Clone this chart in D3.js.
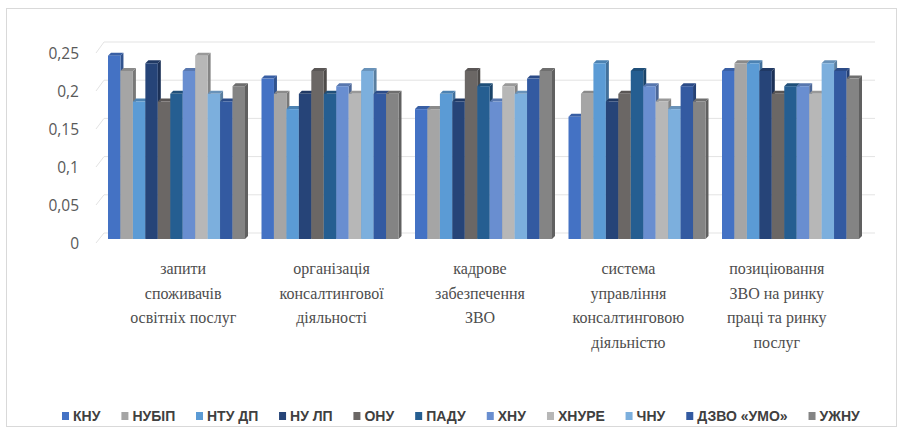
<!DOCTYPE html>
<html>
<head>
<meta charset="utf-8">
<script src="https://cdn.jsdelivr.net/npm/d3@7"></script>
<style>
  body { margin: 0; background: #fff; }
  svg { display: block; }
</style>
</head>
<body>
<div id="chart"></div>
<script>
// ---------------------------------------------------------------------------
// Data
const categories = [
  ['запити', 'споживачів', 'освітніх послуг'],
  ['організація', 'консалтингової', 'діяльності'],
  ['кадрове', 'забезпечення', 'ЗВО'],
  ['система', 'управління', 'консалтинговою', 'діяльністю'],
  ['позиціювання', 'ЗВО на ринку', 'праці та ринку', 'послуг']
];
const series = ['КНУ', 'НУБІП', 'НТУ ДП', 'НУ ЛП', 'ОНУ', 'ПАДУ', 'ХНУ', 'ХНУРЕ', 'ЧНУ', 'ДЗВО «УМО»', 'УЖНУ'];
// one row per category, one value per series
const values = [
  [0.24, 0.22, 0.18, 0.23, 0.18, 0.19, 0.22, 0.24, 0.19, 0.18, 0.20],
  [0.21, 0.19, 0.17, 0.19, 0.22, 0.19, 0.20, 0.19, 0.22, 0.19, 0.19],
  [0.17, 0.17, 0.19, 0.18, 0.22, 0.20, 0.18, 0.20, 0.19, 0.21, 0.22],
  [0.16, 0.19, 0.23, 0.18, 0.19, 0.22, 0.20, 0.18, 0.17, 0.20, 0.18],
  [0.22, 0.23, 0.23, 0.22, 0.19, 0.20, 0.20, 0.19, 0.23, 0.22, 0.21]
];
const yTicks = [0, 0.05, 0.1, 0.15, 0.2, 0.25];
const colors = ['#4472c4', '#a5a5a5', '#5b9bd5', '#264478', '#6b6765', '#255e91',
                '#698ed0', '#b7b7b7', '#7cafdd', '#335aa1', '#848484'];

// ---------------------------------------------------------------------------
// Layout
const width = 902, height = 429;
const depth = 3;

const svg = d3.select('#chart').append('svg')
  .attr('width', width)
  .attr('height', height);

// outer chart border
svg.append('rect')
  .attr('x', 6.5).attr('y', 8.5)
  .attr('width', 890).attr('height', 418)
  .attr('fill', '#fff')
  .attr('stroke', '#d9d9d9');

const x0 = d3.scaleBand()
  .domain(d3.range(categories.length))
  .range([99.75, 867.25])
  .paddingInner(0.1075)
  .paddingOuter(0.05375);
const x1 = d3.scaleBand()
  .domain(series)
  .range([0, x0.bandwidth()]);
// labels sit on the front edge of the floor
const xLabel = d3.scaleBand()
  .domain(d3.range(categories.length))
  .range([109, 851]);

const y = d3.scaleLinear().domain([0, 0.25]).range([239, 48]);
const yWall = d3.scaleLinear().domain([0, 0.25]).range([233, 42]);
const yLabel = d3.scaleLinear().domain([0, 0.25]).range([244, 54]);

// back wall gridlines
svg.append('g')
  .selectAll('line')
  .data(yTicks)
  .join('line')
  .attr('x1', 104).attr('x2', 875)
  .attr('y1', d => yWall(d)).attr('y2', d => yWall(d))
  .attr('stroke', '#e3e3e3')
  .attr('stroke-width', 1);

// side wall tick slants
svg.append('g')
  .selectAll('line')
  .data(yTicks)
  .join('line')
  .attr('x1', 96).attr('x2', 104)
  .attr('y1', d => yLabel(d) - 1).attr('y2', d => yWall(d))
  .attr('stroke', '#e3e3e3');

// y axis labels
svg.append('g')
  .selectAll('text')
  .data(yTicks)
  .join('text')
  .attr('x', 79)
  .attr('y', d => yLabel(d))
  .attr('dy', '0.35em')
  .attr('text-anchor', 'end')
  .attr('font-family', 'Open Sans, sans-serif')
  .attr('font-size', 15.5)
  .attr('fill', '#595959')
  .text(d => d === 0 ? '0' : String(d).replace('.', ','));

// bars
const shade = (c, k) => d3.color(c).darker(k).formatHex();
const bars = [];
values.forEach((row, ci) => {
  row.forEach((v, si) => bars.push({ ci, si, v }));
});

const barG = svg.append('g');
bars.forEach(b => {
  const bx = x0(b.ci) + x1(series[b.si]);
  const bw = x1.bandwidth();
  const top = y(b.v);
  const base = y(0);
  const c = colors[b.si];
  const g = barG.append('g');
  // side face
  g.append('path')
    .attr('d', `M${bx + bw},${top} L${bx + bw + depth},${top - depth} L${bx + bw + depth},${base - depth} L${bx + bw},${base} Z`)
    .attr('fill', shade(c, 0.9));
  // top face
  g.append('path')
    .attr('d', `M${bx},${top} L${bx + depth},${top - depth} L${bx + bw + depth},${top - depth} L${bx + bw},${top} Z`)
    .attr('fill', shade(c, 0.5));
  // front face
  g.append('rect')
    .attr('x', bx).attr('y', top)
    .attr('width', bw).attr('height', base - top)
    .attr('fill', c);
});

// category labels
const catG = svg.append('g')
  .style('font-family', '"Times New Roman", Times, "Liberation Serif", "DejaVu Serif", serif')
  .style('font-size', '16px')
  .attr('fill', '#4d4d4d')
  .attr('text-anchor', 'middle');
categories.forEach((lines, ci) => {
  const t = catG.append('text')
    .attr('x', xLabel(ci) + xLabel.bandwidth() / 2)
    .attr('y', 274);
  lines.forEach((line, li) => {
    t.append('tspan')
      .attr('x', xLabel(ci) + xLabel.bandwidth() / 2)
      .attr('dy', li === 0 ? 0 : 24.5)
      .text(line);
  });
});

// legend
const legendLeft = 62, legendRight = 860;
const legend = svg.append('g');
const items = legend.selectAll('g')
  .data(series)
  .join('g');
items.append('rect')
  .attr('width', 7).attr('height', 8)
  .attr('y', -9)
  .attr('fill', (d, i) => colors[i]);
items.append('text')
  .attr('x', 11)
  .attr('font-family', 'Liberation Sans, Arial, sans-serif')
  .attr('font-weight', 'bold')
  .attr('font-size', 14)
  .attr('fill', '#404040')
  .text(d => d);

const widths = [];
items.each(function () { widths.push(this.getBBox().width); });
const gap = (legendRight - legendLeft - d3.sum(widths)) / (series.length - 1);
let cursor = 0;
items.each(function (d, i) {
  d3.select(this).attr('transform', `translate(${cursor},0)`);
  cursor += widths[i] + gap;
});
legend.attr('transform', `translate(${legendLeft},421)`);
</script>
</body>
</html>
